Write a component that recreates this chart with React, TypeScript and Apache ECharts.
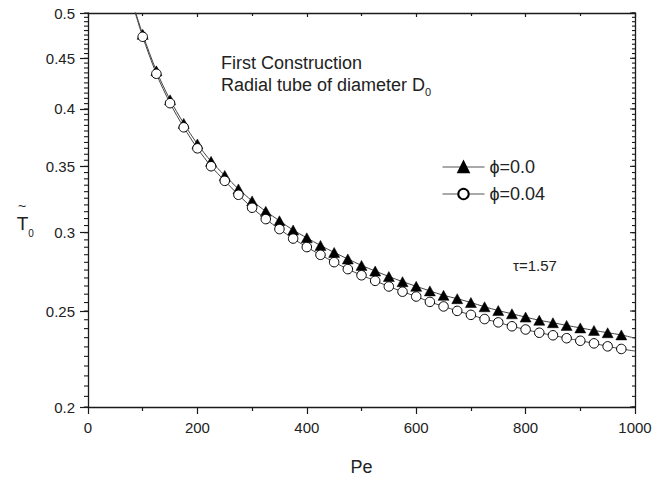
import React, { useEffect, useRef } from 'react';
import * as echarts from 'echarts';

// ---- data ----
const peValues = [
  100, 125, 150, 175, 200, 225, 250, 275, 300, 325, 350, 375, 400, 425, 450, 475, 500, 525,
  550, 575, 600, 625, 650, 675, 700, 725, 750, 775, 800, 825, 850, 875, 900, 925, 950, 975,
];
const phi0Values = [
  0.4758, 0.4371, 0.4086, 0.3868, 0.3687, 0.3541, 0.3427, 0.3321, 0.323, 0.3153, 0.3084, 0.3018,
  0.2964, 0.2912, 0.2865, 0.2822, 0.278, 0.2744, 0.2709, 0.2677, 0.2648, 0.262, 0.2593, 0.2573,
  0.255, 0.2525, 0.2503, 0.2484, 0.2465, 0.2447, 0.2433, 0.2418, 0.2404, 0.239, 0.2377, 0.2365,
];
const phi004Values = [
  0.4731, 0.4341, 0.4054, 0.3833, 0.365, 0.3501, 0.3384, 0.3276, 0.3179, 0.3096, 0.3025, 0.2959,
  0.2901, 0.2849, 0.2801, 0.2756, 0.2717, 0.2682, 0.2647, 0.2615, 0.2586, 0.2554, 0.2527, 0.2501,
  0.2478, 0.2454, 0.2435, 0.2413, 0.2395, 0.2377, 0.2363, 0.2347, 0.2333, 0.2319, 0.2303, 0.2289,
];
// curve continues beyond the marked points
const curveStartPe = 85;
const phi0Start = 0.505;
const phi004Start = 0.503;
const curveEndPe = 1000;
const phi0End = 0.2347;
const phi004End = 0.2278;

const seriesNames = ['ϕ=0.0', 'ϕ=0.04'];
const xMin = 0;
const xMax = 1000;
const yMajorTicks = [0.2, 0.25, 0.3, 0.35, 0.4, 0.45, 0.5];
const yMinorTicks = Array.from({ length: 61 }, (_, i) => +(0.2 + i * 0.005).toFixed(3));

const FONT = '"Liberation Sans", Arial, Helvetica, sans-serif';
const AX = '#1a1a1a';
const TXT = '#222';
const LINE = '#444';

function buildData(start: number, vals: number[], end: number) {
  return [
    { value: [curveStartPe, start], symbol: 'none' },
    ...peValues.map((p, i) => [p, vals[i]]),
    { value: [curveEndPe, end], symbol: 'none' },
  ];
}

// tick marks drawn through the axis scale (custom series)
function tickSeries(xVal: number, values: number[], dir: number, len: number) {
  return {
    type: 'custom',
    coordinateSystem: 'cartesian2d',
    xAxisIndex: 0,
    yAxisIndex: 0,
    silent: true,
    clip: false,
    z: 2,
    data: values.map((v) => [xVal, v]),
    renderItem: (_params: any, api: any) => {
      const p = api.coord([api.value(0), api.value(1)]);
      return {
        type: 'line',
        shape: { x1: p[0], y1: p[1], x2: p[0] + dir * len, y2: p[1] },
        style: { stroke: AX, lineWidth: 1.1 },
      };
    },
  };
}

export default function App() {
  const ref = useRef<HTMLDivElement>(null);
  useEffect(() => {
    document.body.style.margin = '0';
    if (!ref.current) return;
    const chart = echarts.init(ref.current, null, { renderer: 'svg' });
    const axisLine = { show: true, onZero: false, lineStyle: { color: AX, width: 1.3 } };
    const tickLine = { color: AX, width: 1.2 };
    const option: any = {
      animation: false,
      backgroundColor: '#fff',
      grid: { left: 88, right: 35, top: 13, bottom: 63, containLabel: false },
      xAxis: [
        {
          type: 'value', min: xMin, max: xMax, interval: 200, position: 'bottom',
          axisLine,
          axisTick: { show: true, inside: false, length: 7, lineStyle: tickLine },
          minorTick: { show: true, splitNumber: 2, length: 4, lineStyle: tickLine },
          axisLabel: {
            margin: 13, fontSize: 15, color: TXT, fontFamily: FONT,
            formatter: (v: number) => String(v),
          },
          splitLine: { show: false }, minorSplitLine: { show: false },
          name: 'Pe', nameLocation: 'middle', nameGap: 51,
          nameTextStyle: { fontSize: 18, color: TXT, fontFamily: FONT },
        },
        {
          type: 'value', min: xMin, max: xMax, interval: 200, position: 'top',
          axisLine,
          axisTick: { show: true, inside: true, length: 4, lineStyle: tickLine },
          minorTick: { show: true, splitNumber: 2, length: 3, lineStyle: tickLine },
          axisLabel: { show: false },
          splitLine: { show: false }, minorSplitLine: { show: false },
        },
      ],
      yAxis: [
        {
          type: 'log', logBase: 10, min: 0.2, max: 0.5, position: 'left',
          axisLine,
          axisTick: { show: true, inside: false, length: 8, customValues: yMajorTicks, lineStyle: tickLine },
          axisLabel: {
            customValues: yMajorTicks, margin: 13, fontSize: 15, color: TXT, fontFamily: FONT,
            formatter: (v: number) => String(parseFloat(Number(v).toFixed(3))),
          },
          splitLine: { show: false }, minorTick: { show: false },
        },
        {
          type: 'log', logBase: 10, min: 0.2, max: 0.5, position: 'right',
          axisLine,
          axisTick: { show: false },
          axisLabel: { show: false },
          splitLine: { show: false }, minorTick: { show: false },
        },
      ],
      legend: {
        orient: 'vertical', left: 437, top: 153, itemWidth: 42, itemHeight: 13, itemGap: 9,
        selectedMode: false, data: seriesNames,
        lineStyle: { color: '#555', width: 1 },
        textStyle: { fontSize: 18, color: TXT, fontFamily: FONT },
      },
      series: [
        {
          name: seriesNames[0], type: 'line', xAxisIndex: 0, yAxisIndex: 0,
          smooth: 0.3, symbol: 'triangle', symbolSize: [11, 10], showSymbol: true,
          lineStyle: { color: LINE, width: 1 },
          itemStyle: { color: '#000', borderColor: '#000', borderWidth: 0.5 },
          data: buildData(phi0Start, phi0Values, phi0End),
          z: 3,
        },
        {
          name: seriesNames[1], type: 'line', xAxisIndex: 0, yAxisIndex: 0,
          smooth: 0.3, symbol: 'circle', symbolSize: 9.5, showSymbol: true,
          lineStyle: { color: LINE, width: 1 },
          itemStyle: { color: '#fff', borderColor: '#000', borderWidth: 1 },
          data: buildData(phi004Start, phi004Values, phi004End),
          z: 4,
        },
        tickSeries(xMin, yMinorTicks, -1, 4),
        tickSeries(xMax, yMinorTicks, -1, 3),
        tickSeries(xMax, yMajorTicks, -1, 5),
      ],
      graphic: [
        {
          type: 'text', x: 221, y: 63,
          style: { text: 'First Construction', fontSize: 18, fontFamily: FONT, fill: TXT, align: 'left', verticalAlign: 'middle' },
        },
        {
          type: 'text', x: 221, y: 85,
          style: {
            text: '{a|Radial tube of diameter D}{s|0}',
            align: 'left', verticalAlign: 'middle', fill: TXT,
            rich: {
              a: { fontSize: 18, lineHeight: 24, fontFamily: FONT, fill: TXT },
              s: { fontSize: 11, lineHeight: 11, fontFamily: FONT, fill: TXT, verticalAlign: 'bottom' },
            },
          },
        },
        {
          type: 'text', x: 513, y: 265,
          style: { text: 'τ=1.57', fontSize: 15, fontFamily: FONT, fill: TXT, align: 'left', verticalAlign: 'middle' },
        },
        {
          type: 'text', x: 22.5, y: 223,
          style: { text: 'T', fontSize: 19, fontFamily: FONT, fill: TXT, align: 'center', verticalAlign: 'middle' },
        },
        {
          type: 'text', x: 22, y: 206,
          style: { text: '~', fontSize: 14, fontFamily: FONT, fill: TXT, align: 'center', verticalAlign: 'middle' },
        },
        {
          type: 'text', x: 31, y: 233.5,
          style: { text: '0', fontSize: 10, fontFamily: FONT, fill: TXT, align: 'center', verticalAlign: 'middle' },
        },
      ],
    };
    chart.setOption(option);
    return () => chart.dispose();
  }, []);
  return <div ref={ref} style={{ width: 670, height: 481 }} />;
}
